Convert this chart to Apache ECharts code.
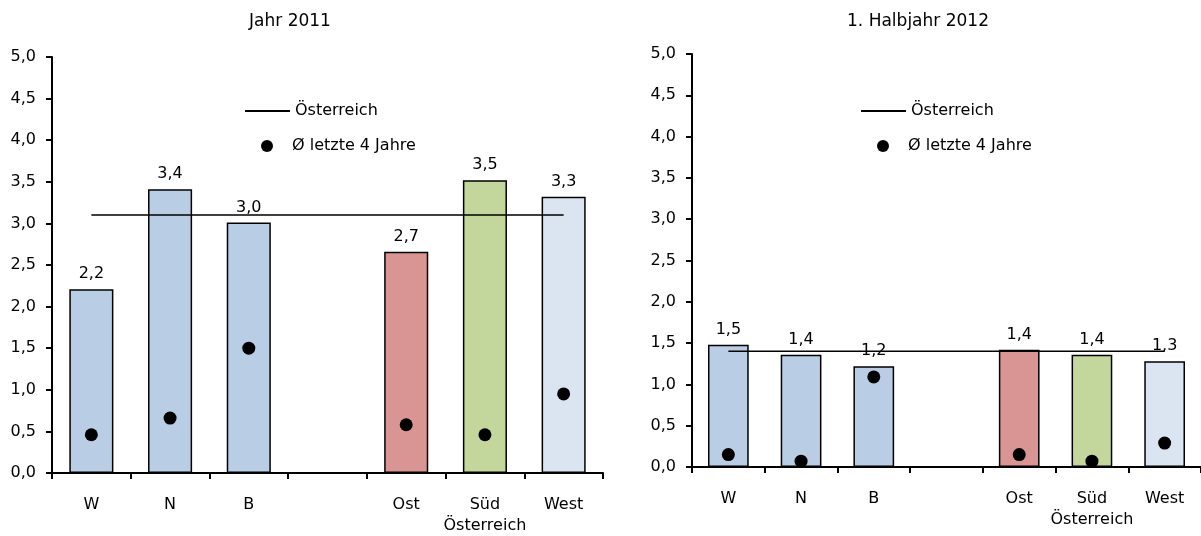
<!DOCTYPE html>
<html><head><meta charset="utf-8">
<script src="https://cdn.jsdelivr.net/npm/echarts@6/dist/echarts.min.js"></script>
<style>html,body{margin:0;padding:0;background:#fff}#c{width:1201px;height:536px}</style>
</head><body><div id="c"></div>
<script>
const categories = ['W', 'N', 'B', '', 'Ost', 'Süd\nÖsterreich', 'West'];
const yTicks = [0, 0.5, 1, 1.5, 2, 2.5, 3, 3.5, 4, 4.5, 5];
const titles = ['Jahr 2011', '1. Halbjahr 2012'];
const legendNames = ['Österreich', 'Ø letzte 4 Jahre'];
const bars2011 = [2.21, 3.41, 3.01, null, 2.66, 3.52, 3.32];
const avg2011 = [0.46, 0.66, 1.50, null, 0.58, 0.46, 0.95];
const austria2011 = [3.1, 3.1, 3.1, 3.1, 3.1, 3.1, 3.1];
const bars2012 = [1.48, 1.36, 1.22, null, 1.42, 1.36, 1.28];
const avg2012 = [0.15, 0.07, 1.09, null, 0.15, 0.07, 0.29];
const austria2012 = [1.4, 1.4, 1.4, 1.4, 1.4, 1.4, 1.4];

const barColors = ['#B9CDE5', '#B9CDE5', '#B9CDE5', '#B9CDE5', '#D99594', '#C3D69B', '#DBE5F1'];
const FONT = 'DejaVu Sans';
const FS = 16;
const fmt = v => Number(v).toFixed(1).replace('.', ',');

const grids = [
  {left: 52, top: 57, width: 551, height: 417},
  {left: 692, top: 54, width: 509, height: 413}
];
const datasets = [
  {bars: bars2011, avg: avg2011, aut: austria2011},
  {bars: bars2012, avg: avg2012, aut: austria2012}
];
const legendPos = [{left: 240, top: 96}, {left: 856, top: 96}];
const titleCenters = [285, 913];
const sfx = i => (i ? ' ' : '');

const legends = [];
[0, 1].forEach(i => {
  legends.push({
    left: legendPos[i].left, top: legendPos[i].top,
    itemWidth: 45, itemHeight: 2, icon: 'rect', selectedMode: false, itemGap: 0,
    data: [legendNames[0] + sfx(i)], formatter: n => n.trim(),
    textStyle: {fontFamily: FONT, fontSize: FS, color: '#000', lineHeight: 20}
  });
  legends.push({
    left: legendPos[i].left + 16, top: legendPos[i].top + 35,
    itemWidth: 12, itemHeight: 12, icon: 'circle', selectedMode: false,
    data: [legendNames[1] + sfx(i)], formatter: n => n.trim(),
    textStyle: {fontFamily: FONT, fontSize: FS, color: '#000', lineHeight: 20, padding: [0, 0, 0, 14]}
  });
});

const option = {
  animation: false,
  textStyle: {fontFamily: FONT, color: '#000'},
  title: titles.map((t, i) => ({
    text: t, left: titleCenters[i], top: 8, textAlign: 'center',
    textStyle: {fontFamily: FONT, fontWeight: 'normal', fontSize: 17, color: '#000'}
  })),
  grid: grids,
  legend: legends,
  xAxis: [0, 1].map(i => ({
    type: 'category', gridIndex: i, data: categories, boundaryGap: true,
    axisLine: {lineStyle: {color: '#000', width: 2}},
    axisTick: {show: true, inside: false, length: 6, lineStyle: {color: '#000', width: 2}},
    axisLabel: {fontFamily: FONT, fontSize: FS, color: '#000', margin: 21, lineHeight: 21, interval: 0}
  })),
  yAxis: [0, 1].map(i => ({
    type: 'value', gridIndex: i, min: yTicks[0], max: yTicks[yTicks.length - 1], interval: 0.5,
    splitLine: {show: false},
    axisLine: {show: true, lineStyle: {color: '#000', width: 2}},
    axisTick: {show: true, length: 6, lineStyle: {color: '#000', width: 2}},
    axisLabel: {fontFamily: FONT, fontSize: FS, color: '#000', margin: 16, formatter: fmt}
  })),
  series: []
};

datasets.forEach((d, i) => {
  option.series.push({
    type: 'bar', name: 'bars' + i, xAxisIndex: i, yAxisIndex: i, barWidth: '56%',
    data: d.bars.map((v, k) => v == null ? '-' : {value: v, itemStyle: {color: barColors[k]}}),
    itemStyle: {borderColor: '#000', borderWidth: 1.5},
    label: {show: true, position: 'top', distance: 7, fontFamily: FONT, fontSize: FS, color: '#000', formatter: p => fmt(p.value)},
    z: 1
  });
  option.series.push({
    type: 'line', name: legendNames[0] + sfx(i), xAxisIndex: i, yAxisIndex: i,
    data: d.aut, symbol: 'none', lineStyle: {color: '#000', width: 1.5}, itemStyle: {color: '#000'}, z: 3
  });
  option.series.push({
    type: 'scatter', name: legendNames[1] + sfx(i), xAxisIndex: i, yAxisIndex: i,
    data: d.avg.map(v => v == null ? '-' : v), symbol: 'circle', symbolSize: 13,
    itemStyle: {color: '#000', opacity: 1}, z: 4
  });
});

const chart = echarts.init(document.getElementById('c'), null, {renderer: 'canvas'});
chart.setOption(option);
</script></body></html>
